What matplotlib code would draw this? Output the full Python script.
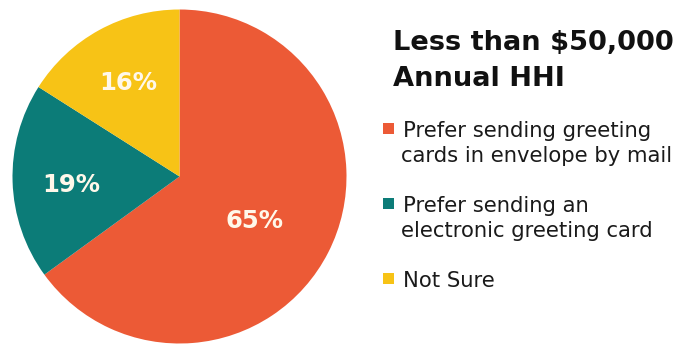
import matplotlib
matplotlib.use("Agg")
import matplotlib.pyplot as plt
from matplotlib.patches import Rectangle
import numpy as np

# ---- data ----
categories = [
    "Prefer sending greeting\ncards in envelope by mail",
    "Prefer sending an\nelectronic greeting card",
    "Not Sure",
]
values = [65, 19, 16]
pct_labels = ["65%", "19%", "16%"]
colors = ["#EC5A36", "#0C7C78", "#F7C316"]
title_lines = ["Less than $50,000", "Annual HHI"]

# ---- layout constants ----
W, H = 681, 345
label_dist = [0.52, 0.65, 0.64]
label_ang_off = [-3.5, 2.7, 0.0]

fig = plt.figure(figsize=(W / 100, H / 100), dpi=100)
fig.patch.set_facecolor("white")


def fx(px):
    return px / W


def fy(py):
    return 1 - py / H


# pie axes: bounding box in pixels
cx, cy, r = 179.5, 176.5, 167.0
ax = fig.add_axes([fx(cx - r), fy(cy + r), 2 * r / W, 2 * r / H])
wedges, _ = ax.pie(values, colors=colors, startangle=90, counterclock=False,
                   wedgeprops=dict(linewidth=0))
ax.set_xlim(-1, 1)
ax.set_ylim(-1, 1)
ax.set_aspect("auto")
ax.axis("off")

for w, lab, d, off in zip(wedges, pct_labels, label_dist, label_ang_off):
    mid = np.deg2rad((w.theta1 + w.theta2) / 2 + off)
    ax.text(d * np.cos(mid), d * np.sin(mid), lab, ha="center", va="center",
            color="#FFF8EA", fontsize=17.5, fontweight="bold",
            family="DejaVu Sans")

# title
title_base = [50, 86]
for line, b in zip(title_lines, title_base):
    fig.text(fx(393), fy(b), line, ha="left", va="baseline", fontsize=19.6,
             fontweight="bold", family="DejaVu Sans", color="#111111")

# legend
first_base = 137
step = 75
line_gap = 25
for i, (cat, col) in enumerate(zip(categories, colors)):
    b = first_base + step * i
    fig.add_artist(Rectangle((fx(383), fy(b - 3)), 11 / W, 11 / H,
                             transform=fig.transFigure, facecolor=col,
                             edgecolor="none"))
    for j, line in enumerate(cat.split("\n")):
        fig.text(fx(403 if j == 0 else 401), fy(b + j * line_gap), line,
                 ha="left", va="baseline", fontsize=15.2,
                 family="DejaVu Sans", color="#1a1a1a")

fig.savefig("out.png", dpi=100, facecolor="white")
